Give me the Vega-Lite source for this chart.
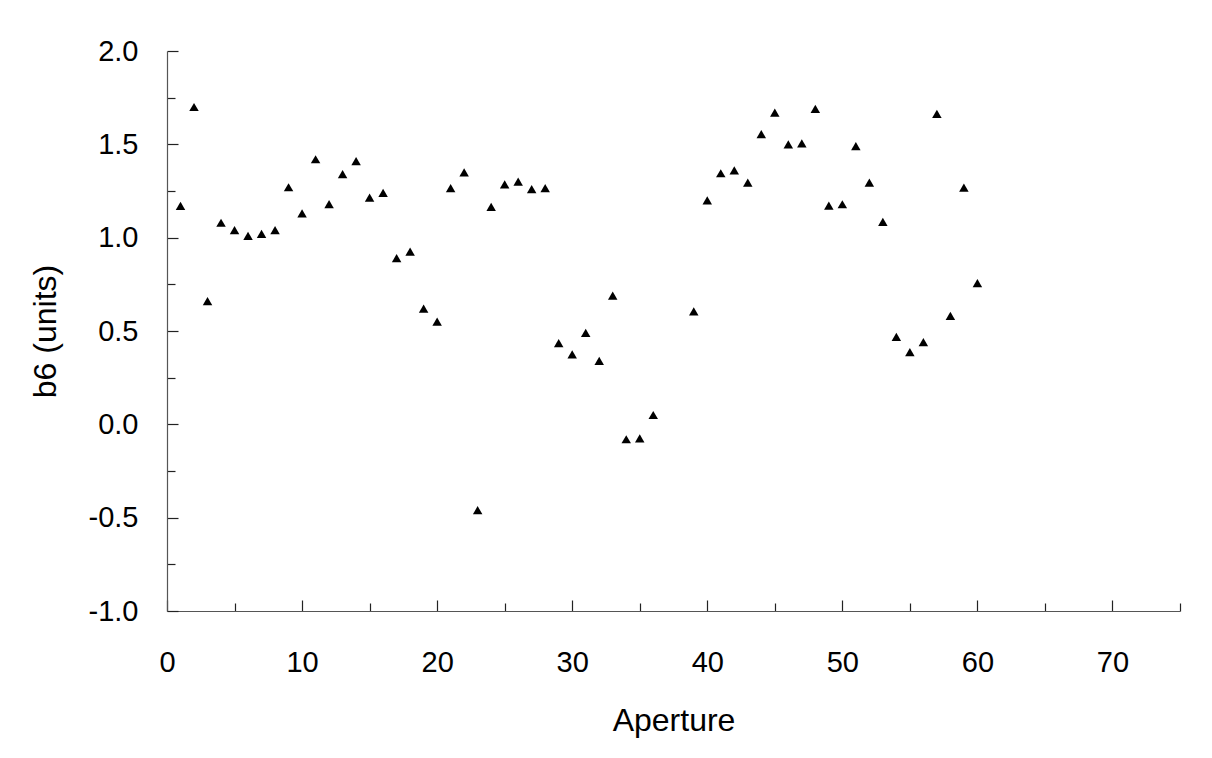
{
  "$schema": "https://vega.github.io/schema/vega-lite/v6.json",
  "width": 1013,
  "height": 560,
  "autosize": {"type": "none"},
  "padding": {"left": 167, "top": 51, "right": 32, "bottom": 147},
  "background": "white",
  "config": {
    "view": {"stroke": null},
    "font": "Liberation Sans",
    "axis": {
      "labelFont": "Liberation Sans",
      "titleFont": "Liberation Sans",
      "labelColor": "black",
      "titleColor": "black",
      "labelFontWeight": "normal",
      "titleFontWeight": "normal",
      "domainColor": "#555555",
      "domainWidth": 1.2,
      "tickColor": "#222222",
      "tickWidth": 1.2,
      "grid": false
    }
  },
  "data": {
    "values": [
      {"aperture": 1, "b6": 1.17},
      {"aperture": 2, "b6": 1.70},
      {"aperture": 3, "b6": 0.66},
      {"aperture": 4, "b6": 1.08},
      {"aperture": 5, "b6": 1.04},
      {"aperture": 6, "b6": 1.01},
      {"aperture": 7, "b6": 1.02},
      {"aperture": 8, "b6": 1.04},
      {"aperture": 9, "b6": 1.27},
      {"aperture": 10, "b6": 1.13},
      {"aperture": 11, "b6": 1.42},
      {"aperture": 12, "b6": 1.18},
      {"aperture": 13, "b6": 1.34},
      {"aperture": 14, "b6": 1.41},
      {"aperture": 15, "b6": 1.215},
      {"aperture": 16, "b6": 1.24},
      {"aperture": 17, "b6": 0.89},
      {"aperture": 18, "b6": 0.925},
      {"aperture": 19, "b6": 0.62},
      {"aperture": 20, "b6": 0.55},
      {"aperture": 21, "b6": 1.265},
      {"aperture": 22, "b6": 1.35},
      {"aperture": 23, "b6": -0.46},
      {"aperture": 24, "b6": 1.165},
      {"aperture": 25, "b6": 1.285},
      {"aperture": 26, "b6": 1.30},
      {"aperture": 27, "b6": 1.26},
      {"aperture": 28, "b6": 1.265},
      {"aperture": 29, "b6": 0.435},
      {"aperture": 30, "b6": 0.375},
      {"aperture": 31, "b6": 0.49},
      {"aperture": 32, "b6": 0.34},
      {"aperture": 33, "b6": 0.69},
      {"aperture": 34, "b6": -0.08},
      {"aperture": 35, "b6": -0.075},
      {"aperture": 36, "b6": 0.05},
      {"aperture": 39, "b6": 0.605},
      {"aperture": 40, "b6": 1.20},
      {"aperture": 41, "b6": 1.345},
      {"aperture": 42, "b6": 1.36},
      {"aperture": 43, "b6": 1.295},
      {"aperture": 44, "b6": 1.555},
      {"aperture": 45, "b6": 1.67},
      {"aperture": 46, "b6": 1.50},
      {"aperture": 47, "b6": 1.505},
      {"aperture": 48, "b6": 1.69},
      {"aperture": 49, "b6": 1.172},
      {"aperture": 50, "b6": 1.179},
      {"aperture": 51, "b6": 1.49},
      {"aperture": 52, "b6": 1.295},
      {"aperture": 53, "b6": 1.085},
      {"aperture": 54, "b6": 0.468},
      {"aperture": 55, "b6": 0.387},
      {"aperture": 56, "b6": 0.44},
      {"aperture": 57, "b6": 1.663},
      {"aperture": 58, "b6": 0.581},
      {"aperture": 59, "b6": 1.268},
      {"aperture": 60, "b6": 0.756}
    ]
  },
  "mark": {"type": "point", "shape": "triangle-up", "filled": true, "color": "black", "opacity": 1, "size": 90},
  "encoding": {
    "x": {
      "field": "aperture",
      "type": "quantitative",
      "scale": {"domain": [0, 75], "nice": false, "zero": false},
      "axis": {
        "title": "Aperture",
        "values": [0, 5, 10, 15, 20, 25, 30, 35, 40, 45, 50, 55, 60, 65, 70, 75],
        "labelExpr": "datum.value % 10 === 0 && datum.value < 75 ? datum.label : ''",
        "tickSize": {"condition": {"test": "datum.value % 10 === 0", "value": -11}, "value": -8},
        "labelPadding": 48,
        "labelFontSize": 29,
        "labelFlush": false,
        "labelOverlap": false,
        "titleFontSize": 32,
        "titlePadding": 25
      }
    },
    "y": {
      "field": "b6",
      "type": "quantitative",
      "scale": {"domain": [-1, 2], "nice": false, "zero": false},
      "axis": {
        "title": "b6 (units)",
        "values": [-1, -0.75, -0.5, -0.25, 0, 0.25, 0.5, 0.75, 1, 1.25, 1.5, 1.75, 2],
        "labelExpr": "abs(datum.value * 2 - round(datum.value * 2)) < 0.001 ? replace(format(datum.value, '.1f'), '\u2212', '-') : ''",
        "tickSize": {"condition": {"test": "abs(datum.value * 2 - round(datum.value * 2)) < 0.001", "value": -11}, "value": -8},
        "labelPadding": 40,
        "labelFontSize": 29,
        "labelFlush": false,
        "labelOverlap": false,
        "titleFontSize": 32,
        "titlePadding": 26
      }
    }
  }
}
